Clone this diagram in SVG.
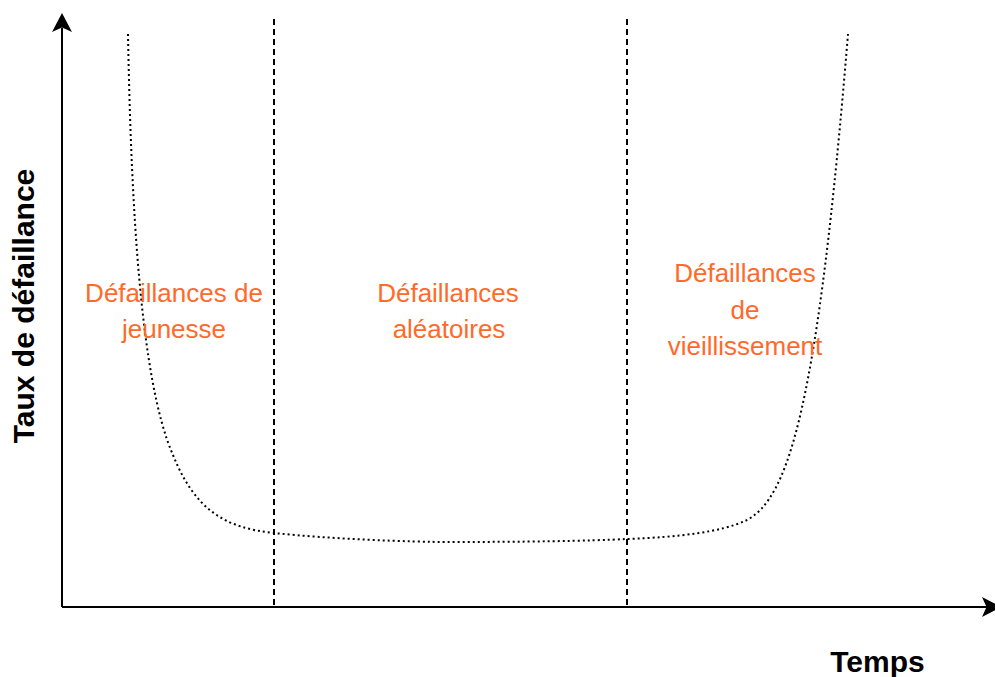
<svg xmlns="http://www.w3.org/2000/svg" width="995" height="677" viewBox="0 0 995 677">
<style>
.axis{stroke:#000;stroke-width:2;fill:none}
.head{fill:#000;stroke:none}
.div{stroke:#000;stroke-width:2;stroke-dasharray:6 4;fill:none}
.curve{stroke:#000;stroke-width:2;stroke-dasharray:2 3;fill:none}
.lbl{font-family:"Liberation Sans",Arial,sans-serif;font-size:26px;fill:#FF6A2B;text-anchor:middle}
.ax{font-family:"Liberation Sans",Arial,sans-serif;font-size:30px;font-weight:bold;fill:#000;text-anchor:middle}
</style>
<rect width="995" height="677" fill="#fff"/>
<g id="connectors">
<path class="axis" d="M62,607 L62,28"/>
<path class="head" d="M62,13 L72,32 L62,27.5 L52,32 Z"/>
<path class="axis" d="M62,607 L987,607"/>
<path class="head" d="M1001,607 L982,597 L986.5,607 L982,617 Z"/>
<path class="div" d="M274,19 L274,607"/>
<path class="div" d="M627,19 L627,607"/>
<path class="curve" d="M128,34 C131,200 140,380 173,455 C195,510 225,528 274,533 C330,539 410,542 450,542 C520,542 590,541 627,539 C680,537 720,532 745,521 C790,500 818,400 848,34"/>
</g>
<g id="y-label"><text class="ax" transform="translate(33.5,306) rotate(-90)">Taux de défaillance</text></g>
<g id="x-label"><text class="ax" x="877.5" y="672">Temps</text></g>
<g id="jeunesse"><text class="lbl" x="174" y="302">Défaillances de</text><text class="lbl" x="174" y="338">jeunesse</text></g>
<g id="aleatoires"><text class="lbl" x="448" y="302">Défaillances</text><text class="lbl" x="449" y="338">aléatoires</text></g>
<g id="vieillissement"><text class="lbl" x="745" y="282">Défaillances</text><text class="lbl" x="745" y="318.5">de</text><text class="lbl" x="745" y="355">vieillissement</text></g>
</svg>
